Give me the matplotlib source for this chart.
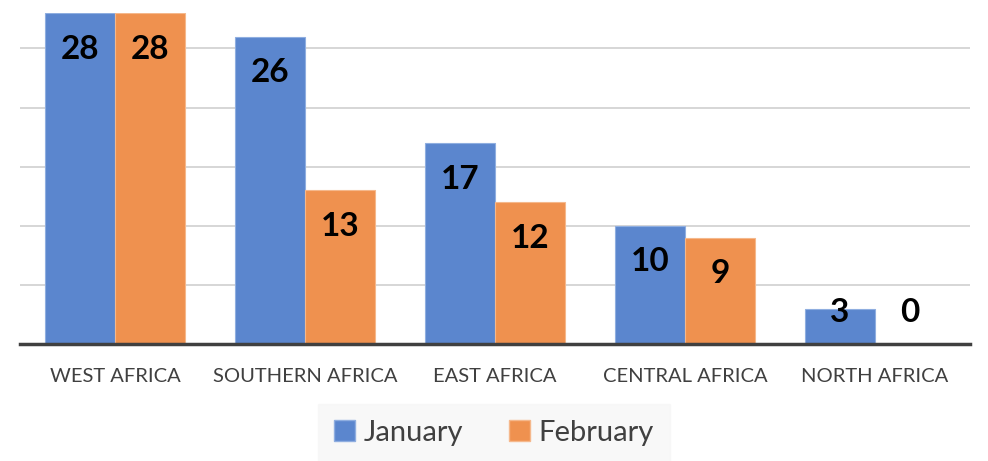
import numpy as np
import matplotlib.pyplot as plt
from matplotlib.patches import Patch

plt.rcParams['font.family'] = ['Lato', 'DejaVu Sans']

regions = ['WEST AFRICA', 'SOUTHERN AFRICA', 'EAST AFRICA', 'CENTRAL AFRICA', 'NORTH AFRICA']
january = [28, 26, 17, 10, 3]
february = [28, 13, 12, 9, 0]

blue = '#5B86CE'
orange = '#EF914F'

fig = plt.figure(figsize=(9.88, 4.61), dpi=100)
ax = fig.add_axes([0.0202, 0.2538, 0.9616, 0.718])

x = np.arange(len(regions))
w = 0.37
b1 = ax.bar(x - w / 2, january, w, color=blue, edgecolor='#8FAEE0', linewidth=0.8, zorder=3)
b2 = ax.bar(x + w / 2, february, w, color=orange, edgecolor='#F5B88C', linewidth=0.8, zorder=3)

# labels sit inside the top of each bar, but not below a minimum height
for bars, vals in [(b1, january), (b2, february)]:
    for rect, v in zip(bars, vals):
        y = max(v - 3.05, 2.7)
        ax.text(rect.get_x() + rect.get_width() / 2, y, str(v), ha='center', va='center',
                fontsize=24, fontweight='bold', color='black', zorder=4)

ax.set_xlim(-0.5, 4.5)
ax.set_ylim(0, 28)
ax.set_yticks([5, 10, 15, 20, 25])
ax.yaxis.grid(True, color='#D0D0D0', linewidth=1.2, zorder=0)
ax.tick_params(axis='y', left=False, labelleft=False)
ax.tick_params(axis='x', length=0, pad=17, labelsize=14.5, labelcolor='#404040')
ax.set_xticks(x)
ax.set_xticklabels(regions)
for s in ['top', 'right', 'left']:
    ax.spines[s].set_visible(False)
ax.spines['bottom'].set_color('#404040')
ax.spines['bottom'].set_linewidth(2.5)
ax.spines['bottom'].set_zorder(5)

handles = [Patch(facecolor=blue, edgecolor='#8FAEE0'), Patch(facecolor=orange, edgecolor='#F5B88C')]
leg = fig.legend(handles, ['January', 'February'], loc='center', bbox_to_anchor=(0.5, 0.061),
                 ncol=2, fontsize=21, frameon=True, fancybox=False, handlelength=0.7,
                 handleheight=0.7, handletextpad=0.3, columnspacing=1.6, borderpad=0.55,
                 borderaxespad=0)
leg.get_frame().set_facecolor('#F7F7F7')
leg.get_frame().set_edgecolor('#F7F7F7')
for t in leg.get_texts():
    t.set_color('#404040')

fig.savefig('out.png', dpi=100)
